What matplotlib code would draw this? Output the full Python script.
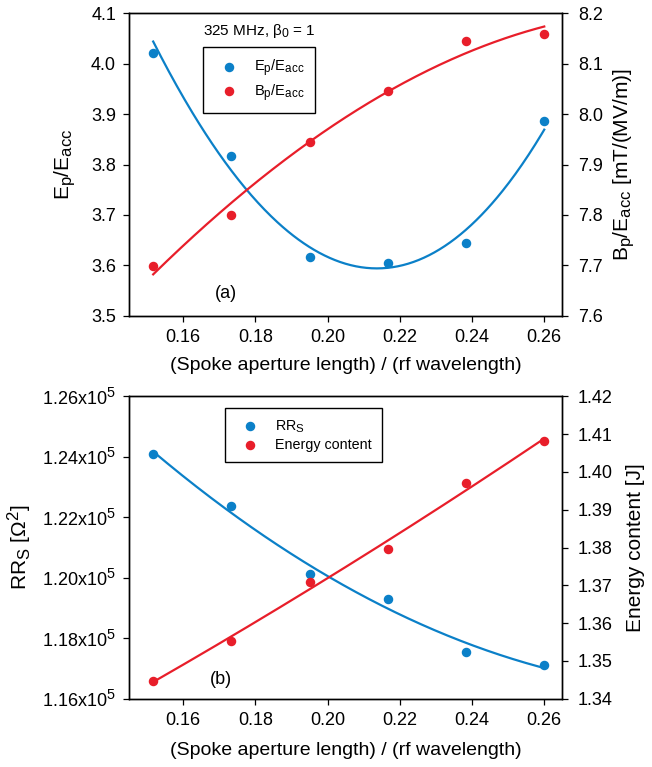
import matplotlib
matplotlib.use('Agg')
import matplotlib.pyplot as plt
import matplotlib._mathtext as mathtext_internal
import numpy as np

plt.rcParams['font.family'] = ['Liberation Sans', 'DejaVu Sans']
plt.rcParams['mathtext.fontset'] = 'custom'
plt.rcParams['mathtext.rm'] = 'Liberation Sans'
plt.rcParams['mathtext.it'] = 'Liberation Sans:italic'
plt.rcParams['mathtext.bf'] = 'Liberation Sans:bold'
# sub/superscripts in the original are a bit larger than matplotlib's default
mathtext_internal.SHRINK_FACTOR = 0.8

# ---- data ----
aperture = [0.1517, 0.1733, 0.1950, 0.2167, 0.2383, 0.2600]

ep_eacc = [4.022, 3.816, 3.616, 3.605, 3.644, 3.886]
bp_eacc = [7.699, 7.800, 7.944, 8.046, 8.146, 8.158]
# fitted curves of panel (a) at the same x positions
ep_fit = [4.042, 3.795, 3.629, 3.596, 3.673, 3.868]
bp_fit = [7.681, 7.827, 7.942, 8.044, 8.123, 8.173]

rrs = [124090, 122370, 120130, 119310, 117550, 117120]
energy = [1.3448, 1.3553, 1.3708, 1.3795, 1.3970, 1.4082]

BLUE = '#0b80c8'
RED = '#e81e2a'

x = np.array(aperture)
xf = np.linspace(x[0], x[-1], 300)


def style_axes(ax):
    ax.tick_params(direction='out', length=4.3, width=0.9, labelsize=13, pad=5)
    ax.tick_params(axis='x', top=False)
    for s in ax.spines.values():
        s.set_linewidth(1.0)


def smooth(xv, yv, deg):
    c = np.polyfit(xv, yv, deg)
    return np.polyval(c, xf)


fig = plt.figure(figsize=(6.52, 7.67), dpi=100)
W, H = 652, 767
ax1 = fig.add_axes([129 / W, 1 - 315.7 / H, 433.3 / W, 302.4 / H])
ax3 = fig.add_axes([129 / W, 1 - 698.7 / H, 433.3 / W, 302.4 / H])

# ---------------- panel (a) ----------------
ax2 = ax1.twinx()
ax1.plot(xf, smooth(x, ep_fit, 3), color=BLUE, lw=1.6)
h1 = ax1.scatter(x, ep_eacc, s=34, color=BLUE, zorder=3, label=r'E$_\mathregular{p}$/E$_\mathregular{acc}$')
ax2.plot(xf, smooth(x, bp_fit, 3), color=RED, lw=1.6)
h2 = ax2.scatter(x, bp_eacc, s=34, color=RED, zorder=3, label=r'B$_\mathregular{p}$/E$_\mathregular{acc}$')

ax1.set_xlim(0.145, 0.265)
ax1.set_ylim(3.5, 4.1)
ax2.set_ylim(7.6, 8.2)
ax1.set_xticks([0.16, 0.18, 0.20, 0.22, 0.24, 0.26])
ax1.set_yticks(np.arange(3.5, 4.11, 0.1))
ax2.set_yticks(np.arange(7.6, 8.21, 0.1))
ax1.xaxis.set_major_formatter(matplotlib.ticker.FormatStrFormatter('%.2f'))
ax1.yaxis.set_major_formatter(matplotlib.ticker.FormatStrFormatter('%.1f'))
ax2.yaxis.set_major_formatter(matplotlib.ticker.FormatStrFormatter('%.1f'))
style_axes(ax1)
style_axes(ax2)
ax2.tick_params(axis='y', pad=7)

ax1.set_xlabel('(Spoke aperture length) / (rf wavelength)', fontsize=14)
ax1.xaxis.set_label_coords(0.5, -0.138)
ax1.set_ylabel(r'E$_\mathregular{p}$/E$_\mathregular{acc}$', fontsize=15)
ax1.yaxis.set_label_coords(-0.118, 0.5)
ax2.set_ylabel(r'B$_\mathregular{p}$/E$_\mathregular{acc}$ [mT/(MV/m)]', fontsize=15)
ax2.yaxis.set_label_coords(1.114, 0.5)

ax2.text(0.171, 0.94, r'325 MHz, β$_\mathregular{0}$ = 1', transform=ax1.transAxes,
         fontsize=11, va='center', ha='left')
ax2.text(0.198, 0.075, '(a)', transform=ax1.transAxes, fontsize=13, va='center', ha='left')
leg = ax2.legend(handles=[h1, h2], loc='upper left', bbox_to_anchor=(0.171, 0.889),
                 borderaxespad=0, fontsize=10.5, frameon=True, fancybox=False,
                 edgecolor='black', framealpha=1, borderpad=0.7, handlelength=2.1,
                 handletextpad=0.7, labelspacing=0.25, scatterpoints=1)
leg.get_frame().set_linewidth(1.0)

# ---------------- panel (b) ----------------
ax4 = ax3.twinx()
ax3.plot(xf, smooth(x, rrs, 2), color=BLUE, lw=1.6)
h3 = ax3.scatter(x, rrs, s=34, color=BLUE, zorder=3, label=r'RR$_\mathregular{S}$')
ax4.plot(xf, smooth(x, energy, 2), color=RED, lw=1.6)
h4 = ax4.scatter(x, energy, s=34, color=RED, zorder=3, label='Energy content')

ax3.set_xlim(0.145, 0.265)
ax3.set_ylim(116000, 126000)
ax4.set_ylim(1.34, 1.42)
ax3.set_xticks([0.16, 0.18, 0.20, 0.22, 0.24, 0.26])
ax3.xaxis.set_major_formatter(matplotlib.ticker.FormatStrFormatter('%.2f'))
rrs_ticks = np.arange(116000, 126001, 2000)
ax3.set_yticks(rrs_ticks)
ax3.set_yticklabels([f'{v / 1e5:.2f}x10$^\\mathregular{{5}}$' for v in rrs_ticks])
ax4.set_yticks(np.arange(1.34, 1.4201, 0.01))
ax4.yaxis.set_major_formatter(matplotlib.ticker.FormatStrFormatter('%.2f'))
style_axes(ax3)
style_axes(ax4)
ax4.tick_params(axis='y', pad=7)

ax3.set_xlabel('(Spoke aperture length) / (rf wavelength)', fontsize=14)
ax3.xaxis.set_label_coords(0.5, -0.142)
ax3.set_ylabel(r'RR$_\mathregular{S}$ [Ω$^\mathregular{2}$]', fontsize=15)
ax3.yaxis.set_label_coords(-0.219, 0.5)
ax4.set_ylabel('Energy content [J]', fontsize=15)
ax4.yaxis.set_label_coords(1.147, 0.5)

ax4.text(0.187, 0.065, '(b)', transform=ax3.transAxes, fontsize=13, va='center', ha='left')
leg2 = ax4.legend(handles=[h3, h4], loc='upper left', bbox_to_anchor=(0.2216, 0.961),
                  borderaxespad=0, fontsize=10.3, frameon=True, fancybox=False,
                  edgecolor='black', framealpha=1, borderpad=0.7, handlelength=2.1,
                  handletextpad=0.7, labelspacing=0.25, scatterpoints=1)
leg2.get_frame().set_linewidth(1.0)

fig.savefig('out.png', dpi=100)
